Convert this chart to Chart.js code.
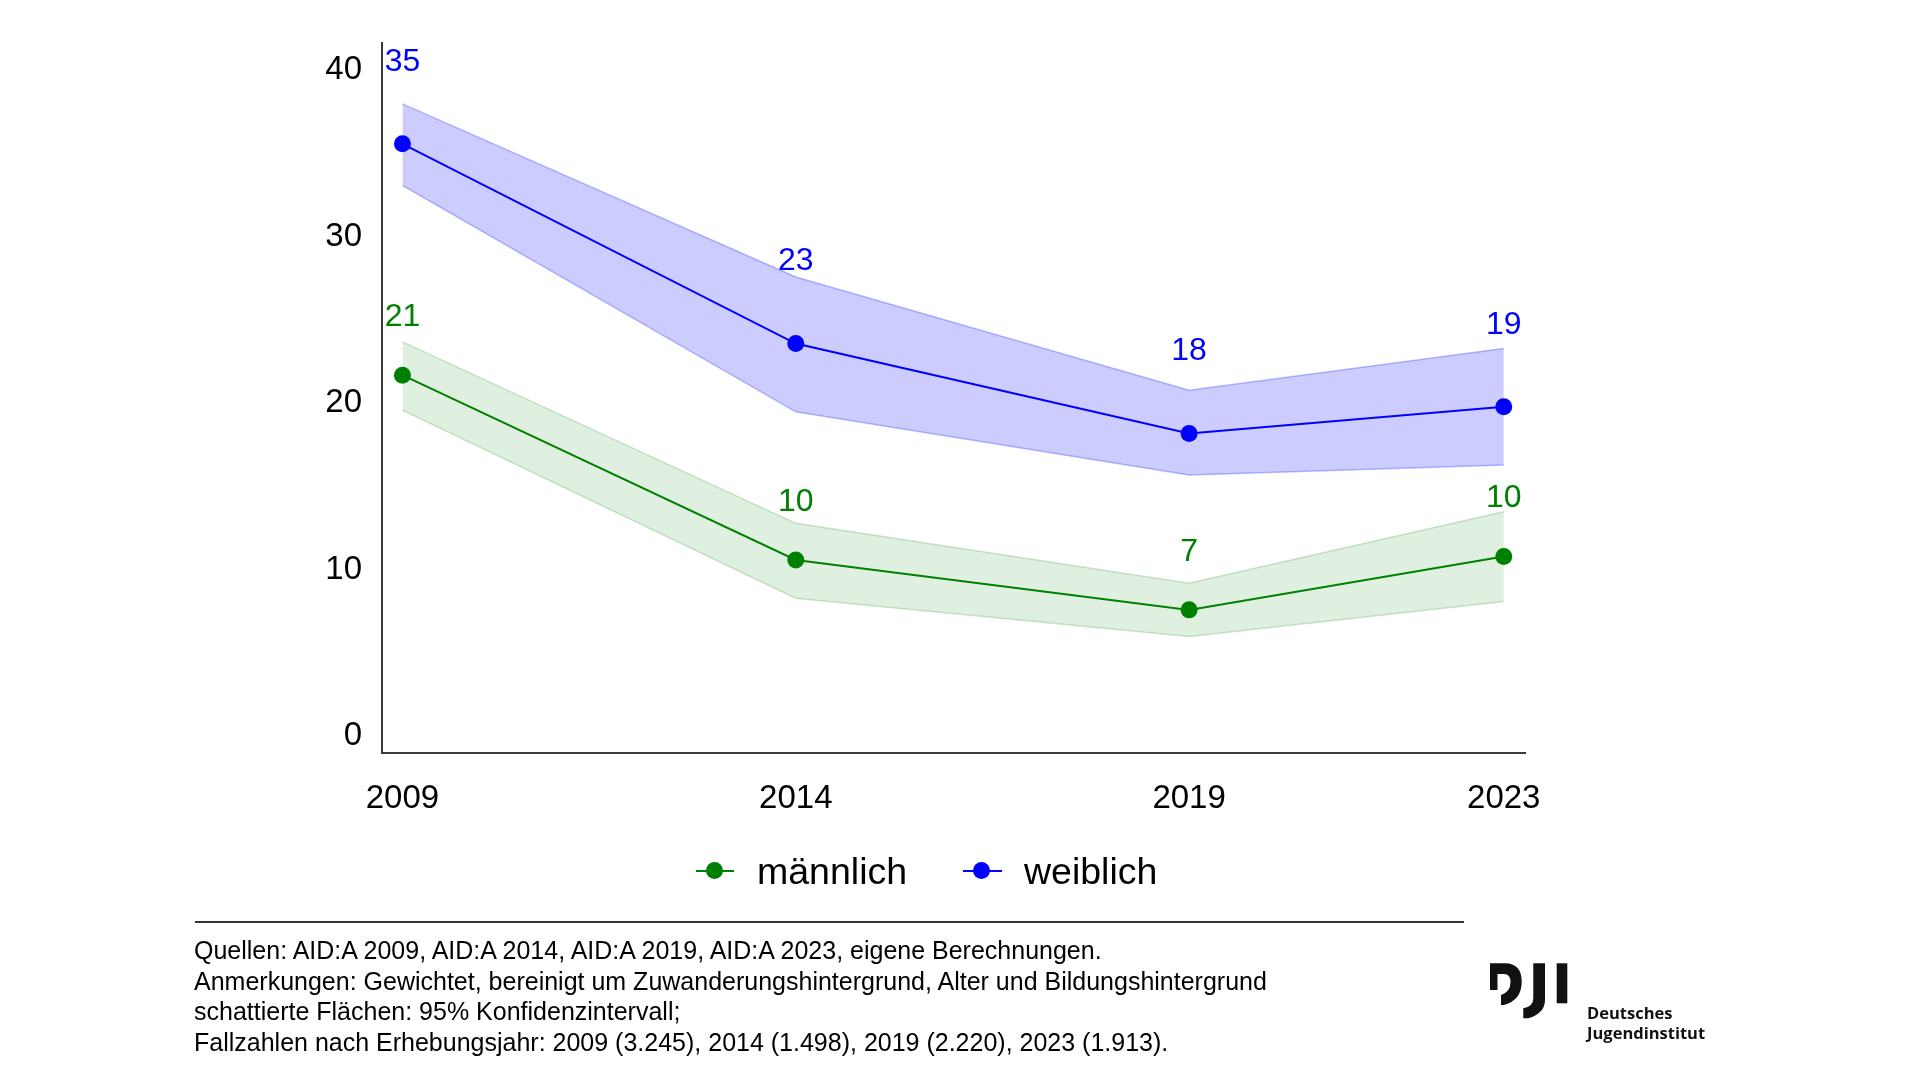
<!DOCTYPE html>
<html lang="de">
<head>
<meta charset="utf-8">
<title>Anteil nach Geschlecht und Erhebungsjahr</title>
<script src="https://cdn.jsdelivr.net/npm/chart.js@4.4.1/dist/chart.umd.min.js"></script>
<style>
  html, body { margin: 0; padding: 0; background: #fff; }
  body {
    width: 1920px; height: 1080px; position: relative; overflow: hidden;
    font-family: "Liberation Sans", Arial, sans-serif; color: #000;
  }
  #chart { position: absolute; left: 0; top: 0; }
  .leg-line { position: absolute; height: 2px; }
  .leg-dot { position: absolute; width: 17px; height: 17px; border-radius: 50%; }
  .leg-text { position: absolute; font-size: 37.5px; line-height: 37.5px; white-space: nowrap; }
  #rule { position: absolute; left: 195px; top: 921px; width: 1269px; height: 2px; background: #333; }
  #notes {
    position: absolute; left: 194px; top: 935px;
    font-size: 25px; line-height: 30.5px; white-space: nowrap;
  }
  #logo { position: absolute; left: 1490px; top: 960px; }
  #logo-text {
    position: absolute; left: 1587px; top: 1003px;
    font-family: "Open Sans", sans-serif; font-weight: 700;
    font-size: 16.5px; line-height: 20px; color: #111;
  }
</style>
</head>
<body>
<canvas id="chart" width="1920" height="1080"></canvas>

<div class="leg-line" style="left:696px; top:870px; width:38px; background:#008000;"></div>
<div class="leg-dot" style="left:706px; top:862px; background:#008000;"></div>
<div class="leg-text" style="left:757px; top:853px;">männlich</div>
<div class="leg-line" style="left:963px; top:870px; width:39px; background:#0000ff;"></div>
<div class="leg-dot" style="left:973px; top:862px; background:#0000ff;"></div>
<div class="leg-text" style="left:1024px; top:853px;">weiblich</div>

<div id="rule"></div>
<div id="notes">
  Quellen: AID:A 2009, AID:A 2014, AID:A 2019, AID:A 2023, eigene Berechnungen.<br>
  Anmerkungen: Gewichtet, bereinigt um Zuwanderungshintergrund, Alter und Bildungshintergrund<br>
  schattierte Flächen: 95% Konfidenzintervall;<br>
  Fallzahlen nach Erhebungsjahr: 2009 (3.245), 2014 (1.498), 2019 (2.220), 2023 (1.913).
</div>

<svg id="logo" width="80" height="62" viewBox="0 0 80 62">
  <path fill="#111" d="M0,3.3 L15,3.3 Q31.7,3.3 31.7,22 Q31.7,40 14,45 L11,45 L11,35 Q20.5,32 20.5,22 Q20.5,14 14,14 L7.5,14 L7.5,30 L0,30 Z"/>
  <path fill="#111" d="M43.3,3.3 L55,3.3 L55,40 Q55,53.3 38.3,58.3 L33.3,58.3 L33.3,48.3 Q43.3,46.7 43.3,38.3 Z"/>
  <rect fill="#111" x="66.7" y="3.3" width="10.6" height="40"/>
</svg>
<div id="logo-text">Deutsches<br>Jugendinstitut</div>

<script>
// Werte (Anteile in %)
const years = [2009, 2014, 2019, 2023];
const weiblich = [35.4, 23.4, 18.0, 19.6];
const weiblichLo = [32.9, 19.3, 15.5, 16.1];
const weiblichHi = [37.8, 27.4, 20.6, 23.1];
const maennlich = [21.5, 10.4, 7.4, 10.6];
const maennlichLo = [19.4, 8.1, 5.8, 7.9];
const maennlichHi = [23.5, 12.6, 9.0, 13.3];
// gedruckte Werte über den Punkten
const weiblichText = ['35', '23', '18', '19'];
const maennlichText = ['21', '10', '7', '10'];
const yTicks = [0, 10, 20, 30, 40];

const FONT = '"Liberation Sans", Arial, sans-serif';
const BLUE = '#0000ff';
const GREEN = '#008000';

function toPoints(values) {
    return years.map((year, i) => ({ x: year, y: values[i] }));
}

// Beschriftung der Punkte oberhalb der Linien
const labelStyle = [
    { dataset: 0, color: BLUE, offset: 82, text: weiblichText },
    { dataset: 1, color: GREEN, offset: 58, text: maennlichText }
];
const pointLabels = {
    id: 'pointLabels',
    afterDatasetsDraw(chart) {
        const ctx = chart.ctx;
        ctx.save();
        ctx.font = '32px ' + FONT;
        ctx.textAlign = 'center';
        ctx.textBaseline = 'middle';
        labelStyle.forEach(item => {
            const meta = chart.getDatasetMeta(item.dataset);
            ctx.fillStyle = item.color;
            meta.data.forEach((pt, i) => {
                ctx.fillText(item.text[i], pt.x, pt.y - item.offset);
            });
        });
        ctx.restore();
    }
};

function band(values, fill, edge, bg) {
    return {
        data: toPoints(values),
        borderColor: edge,
        borderWidth: 1.5,
        backgroundColor: bg,
        pointRadius: 0,
        fill: fill,
        tension: 0
    };
}

document.addEventListener('DOMContentLoaded', function() {
    const el = document.getElementById('chart');
    new Chart(el, {
        type: 'line',
        data: {
            datasets: [{
                label: 'weiblich',
                data: toPoints(weiblich),
                borderColor: BLUE,
                borderWidth: 2,
                pointRadius: 8.5,
                pointBorderWidth: 0,
                pointBackgroundColor: BLUE,
                fill: false
            }, {
                label: 'männlich',
                data: toPoints(maennlich),
                borderColor: GREEN,
                borderWidth: 2,
                pointRadius: 8.5,
                pointBorderWidth: 0,
                pointBackgroundColor: GREEN,
                fill: false
            },
            band(weiblichLo, false, 'rgba(60,60,255,0.35)', 'transparent'),
            band(weiblichHi, '-1', 'rgba(60,60,255,0.35)', 'rgba(0,0,255,0.2)'),
            band(maennlichLo, false, 'rgba(0,128,0,0.2)', 'transparent'),
            band(maennlichHi, '-1', 'rgba(0,128,0,0.2)', 'rgba(0,128,0,0.12)')
            ]
        },
        options: {
            responsive: false,
            animation: false,
            devicePixelRatio: 1,
            layout: {
                padding: { left: 0, top: 43, right: 395, bottom: 267 }
            },
            plugins: {
                legend: { display: false },
                tooltip: { enabled: false }
            },
            scales: {
                x: {
                    type: 'linear',
                    min: 2008.74,
                    max: 2023.27,
                    grid: { display: false },
                    border: { display: true, color: '#3a3a3a', width: 2 },
                    ticks: {
                        color: '#000',
                        font: { size: 33, family: FONT },
                        padding: 18,
                        maxRotation: 0,
                        autoSkip: false,
                        callback: v => String(v)
                    },
                    afterBuildTicks: axis => { axis.ticks = years.map(v => ({ value: v })); },
                    afterFit: axis => { axis.height = 60; }
                },
                y: {
                    min: -1.2,
                    max: 41.46,
                    grid: { display: false },
                    border: { display: true, color: '#3a3a3a', width: 2 },
                    ticks: {
                        color: '#000',
                        font: { size: 33, family: FONT },
                        padding: 12,
                        labelOffset: 3,
                        callback: v => String(v)
                    },
                    afterBuildTicks: axis => { axis.ticks = yTicks.map(v => ({ value: v })); },
                    afterFit: axis => { axis.width = 382; }
                }
            }
        },
        plugins: [pointLabels]
    });
});
</script>
</body>
</html>
